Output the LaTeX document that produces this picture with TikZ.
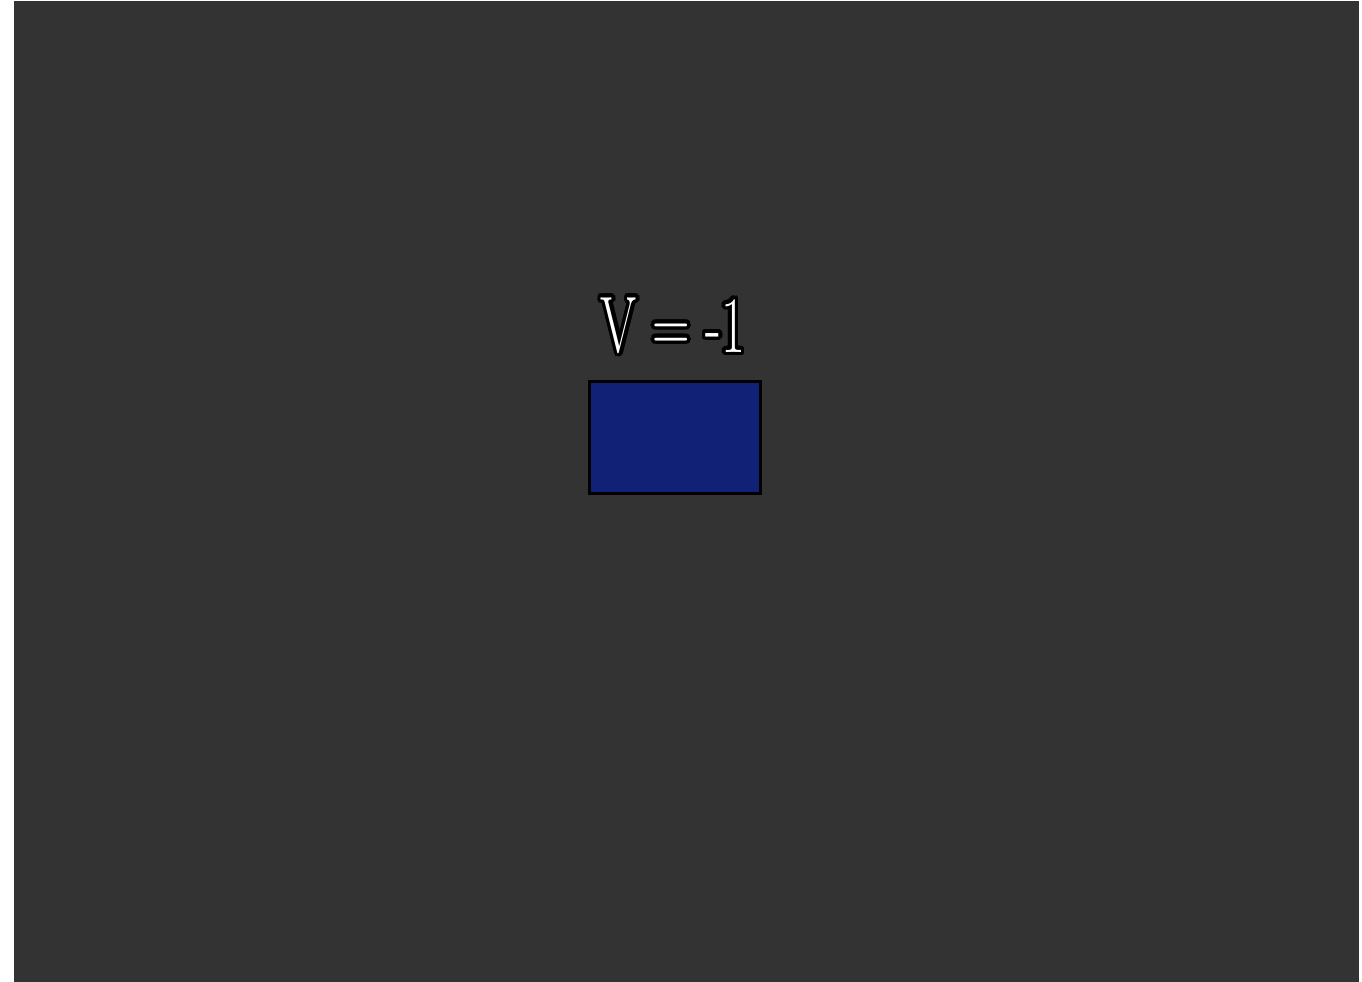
\documentclass[tikz,border=0pt]{standalone}
\definecolor{bgdark}{RGB}{51,51,51}
\definecolor{boxblue}{RGB}{17,33,117}
\tikzset{
  boxstyle/.style={draw=black, line width=2.4pt, fill=boxblue},
  labeltext/.style={font=\fontsize{80}{80}\selectfont, inner sep=0pt, anchor=base, xscale=0.65}
}
\begin{document}
\begin{tikzpicture}[x=1pt,y=-1pt]
\useasboundingbox (0,0) rectangle (1362,982);
\fill[white] (0,0) rectangle (1362,982);
\fill[bgdark] (14,1) rectangle (1359,982);
\node[boxstyle, minimum width=171pt, minimum height=112pt, inner sep=0pt] (box) at (675,437.5) {};
\coordinate (lbl) at (673,352);
\foreach \a in {0,20,...,340}{
  \node[labeltext, text=black] at ([shift={(\a:3.6pt)}]lbl) {V = -1};
}
\node[labeltext, text=white] (label) at (lbl) {V = -1};
\end{tikzpicture}
\end{document}
